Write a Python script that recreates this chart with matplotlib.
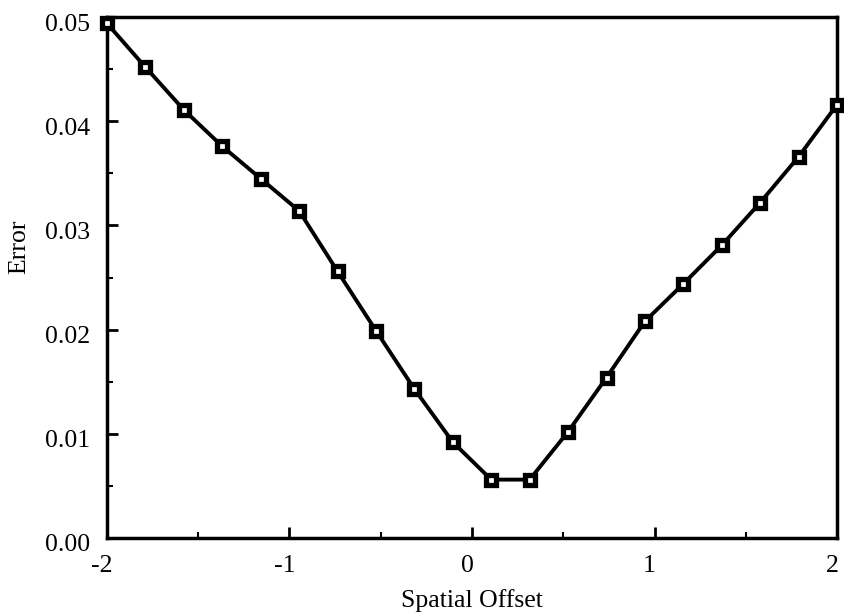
import numpy as np
import matplotlib
matplotlib.use("Agg")
import matplotlib.pyplot as plt
from matplotlib.ticker import MultipleLocator
from matplotlib.transforms import ScaledTranslation

# Data
offsets = np.linspace(-2, 2, 20)
errors = [0.0494, 0.0452, 0.0411, 0.0376, 0.0345, 0.0314, 0.0256, 0.0199,
          0.0143, 0.0092, 0.0056, 0.0056, 0.0102, 0.0154, 0.0208, 0.0244,
          0.0281, 0.0322, 0.0366, 0.0416]
x_ticks = [-2, -1, 0, 1, 2]
x_tick_labels = ["-2", "-1", "0", "1", "2"]
y_ticks = [0.00, 0.01, 0.02, 0.03, 0.04, 0.05]
y_tick_labels = ["0.00", "0.01", "0.02", "0.03", "0.04", "0.05"]

plt.rcParams['font.family'] = ['Liberation Serif', 'DejaVu Serif']

fig = plt.figure(figsize=(8.45, 6.12), dpi=100)
ax = fig.add_axes([0.1266, 0.121, 0.864, 0.851])

ax.plot(offsets, errors, color='black', linewidth=2.8, marker='s',
        markersize=6.5, markeredgewidth=3.8, markeredgecolor='black',
        markerfacecolor='white', clip_on=False, zorder=3)

ax.set_xlim(-2, 2)
ax.set_ylim(0, 0.05)
ax.set_xticks(x_ticks)
ax.set_xticklabels(x_tick_labels)
ax.set_yticks(y_ticks)
ax.set_yticklabels(y_tick_labels)
ax.xaxis.set_minor_locator(MultipleLocator(0.5))
ax.yaxis.set_minor_locator(MultipleLocator(0.005))

ax.tick_params(axis='both', which='major', direction='in', length=8, width=2,
               labelsize=18.5, top=False, right=False)
ax.tick_params(axis='x', which='major', pad=12)
ax.tick_params(axis='y', which='major', pad=12)
ax.tick_params(axis='both', which='minor', direction='in', length=4, width=1.5,
               top=False, right=False)

dy = ScaledTranslation(0, -5 / 100, fig.dpi_scale_trans)
for lab in ax.get_yticklabels():
    lab.set_transform(lab.get_transform() + dy)
dx = ScaledTranslation(-5 / 100, 0, fig.dpi_scale_trans)
for lab in ax.get_xticklabels():
    lab.set_transform(lab.get_transform() + dx)

for s in ax.spines.values():
    s.set_linewidth(2.5)

ax.set_xlabel("Spatial Offset", fontsize=18.5, labelpad=9)
ax.set_ylabel("Error", fontsize=18.5)
ax.yaxis.set_label_coords(-0.105, 0.56)

fig.savefig("out.png", dpi=100)
